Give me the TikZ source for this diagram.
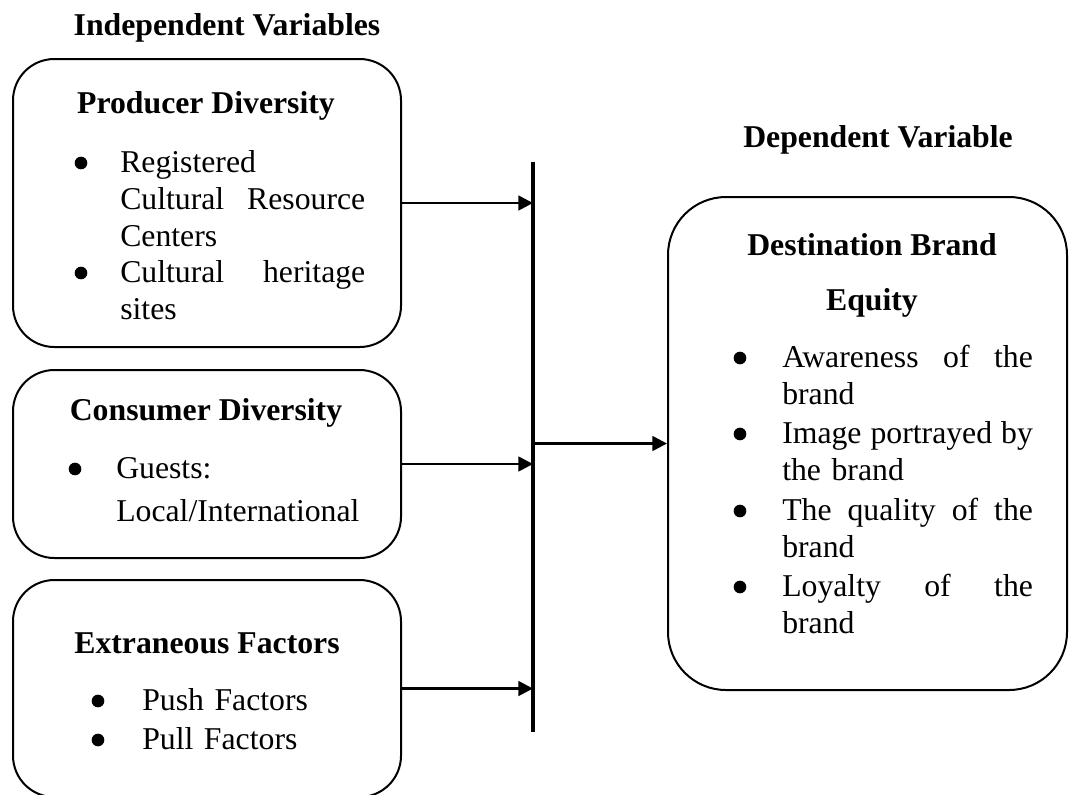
\documentclass[tikz,border=0pt]{standalone}
\usepackage{fontspec}
\setmainfont{Liberation Serif}
\usetikzlibrary{arrows.meta}

\newcommand{\sz}{\fontsize{23.8}{27.75}\selectfont}

\begin{document}
\begin{tikzpicture}[x=0.75pt,y=-0.75pt,
  varbox/.style={draw,line width=1.5pt,rounded corners=31pt,inner sep=0},
  heading/.style={font=\sz\bfseries,anchor=base,inner sep=0},
  bultext/.style={font=\sz,anchor=base west,inner sep=0,text width=#1,align=left},
  blt/.style={circle,fill,inner sep=0,minimum size=9.5pt},
  link/.style={line width=2pt,-{Triangle[length=11pt,width=11pt]}}]
  \useasboundingbox (0,0) rectangle (1070,794);

  % titles
  \node[heading] (indep) at (227,35) {Independent Variables};
  \node[heading] (dep) at (878,147) {Dependent Variable};

  % left boxes
  \node[varbox,minimum width=291pt,minimum height=216pt] (prod) at (207,203) {};
  \node[varbox,minimum width=291pt,minimum height=141pt] (cons) at (207,464) {};
  \node[varbox,minimum width=291pt,minimum height=162.75pt] (extr) at (207,688.5) {};

  \node[heading] (prodh) at (206,113) {Producer Diversity};
  \node[bultext=183.75pt] (prod1) at (120,172) {Registered\\Cultural\hfill Resource\\Centers};
  \node[bultext=183.75pt] (prod2) at (120,282) {Cultural\hfill heritage\\sites};
  \node[blt] (b1) at ([shift={(-39,-9)}]prod1.base west) {};
  \node[blt] (b2) at ([shift={(-39,-9)}]prod2.base west) {};

  \node[heading] (consh) at (206,420) {Consumer Diversity};
  \node[bultext=190pt] (cons1) at (116,478) {Guests:\\[5pt]Local/International};
  \node[blt] (b3) at ([shift={(-41,-9)}]cons1.base west) {};

  \node[heading] (extrh) at (207,653) {Extraneous Factors};
  \node[bultext=183.75pt] (extr1) at (142,710) {Push Factors};
  \node[bultext=183.75pt] (extr2) at (142,749) {Pull Factors};
  \node[blt] (b4) at ([shift={(-44,-9)}]extr1.base west) {};
  \node[blt] (b5) at ([shift={(-44,-9)}]extr2.base west) {};

  % right box
  \node[varbox,rounded corners=43.5pt,minimum width=299.25pt,minimum height=369.75pt] (dest) at (867.5,443.5) {};
  \node[heading] (desth) at (872,255) {Destination Brand};
  \node[heading] (desth2) at (872,310) {Equity};
  \node[bultext=188pt] (dest1) at (782,367) {Awareness\hfill of\hfill the\\brand};
  \node[bultext=188pt] (dest2) at (782,443) {Image\hfill portrayed\hfill by\\the brand};
  \node[bultext=188pt] (dest3) at (782,520) {The\hfill quality\hfill of\hfill the\\brand};
  \node[bultext=188pt] (dest4) at (782,596) {Loyalty\hfill of\hfill the\\brand};
  \foreach \n [count=\i from 6] in {dest1,dest2,dest3,dest4}
    \node[blt] (b\i) at ([shift={(-42,-9)}]\n.base west) {};

  % bar and arrows
  \coordinate (bartop) at (533,162);
  \coordinate (barbot) at (533,732);
  \draw[line width=2.6pt] (bartop) -- (barbot);
  \draw[link] (prod.east) -- (prod.east -| bartop);
  \draw[link] (cons.east) -- (cons.east -| bartop);
  \draw[link] (extr.east) -- (extr.east -| bartop);
  \draw[link] (dest.west -| bartop) -- (dest.west);
\end{tikzpicture}
\end{document}
